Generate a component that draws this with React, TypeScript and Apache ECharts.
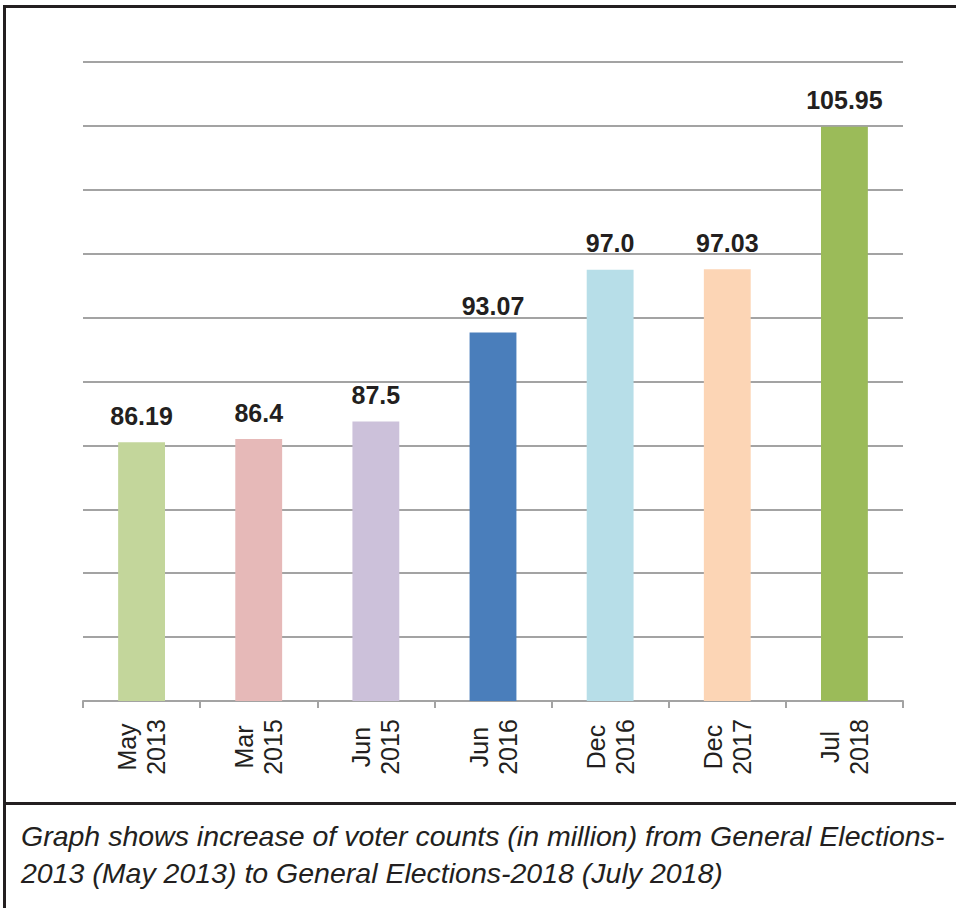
import React, { useEffect, useRef } from "react";
import * as echarts from "echarts";

// Registered voters (million) at each electoral-roll update
const categories = [
  "May\n2013",
  "Mar\n2015",
  "Jun\n2015",
  "Jun\n2016",
  "Dec\n2016",
  "Dec\n2017",
  "Jul\n2018",
];
const voters = [86.19, 86.4, 87.5, 93.07, 97.0, 97.03, 105.95];
const valueLabels = ["86.19", "86.4", "87.5", "93.07", "97.0", "97.03", "105.95"];
const barColors = [
  "#c3d69b",
  "#e6b9b8",
  "#ccc1da",
  "#4a7ebb",
  "#b7dee8",
  "#fcd5b5",
  "#9bbb59",
];
const captionLines = [
  "Graph shows increase of voter counts (in million) from General Elections-",
  "2013 (May 2013) to General Elections-2018 (July 2018)",
];

const INK = "#231f20";
const GRID_GREY = "#a3a3a3";
const FONT = "'Liberation Sans', Arial, Helvetica, sans-serif";

export default function App() {
  const ref = useRef<HTMLDivElement>(null);

  useEffect(() => {
    if (!ref.current) return;
    const chart = echarts.init(ref.current, null, { renderer: "svg" });

    chart.setOption({
      animation: false,
      backgroundColor: "#ffffff",
      grid: { left: 83, right: 53, top: 62, bottom: 207, containLabel: false },
      xAxis: {
        type: "category",
        data: categories,
        axisLine: { show: true, lineStyle: { color: GRID_GREY, width: 2 } },
        axisTick: {
          show: true,
          alignWithLabel: false,
          length: 7,
          lineStyle: { color: GRID_GREY, width: 2 },
        },
        axisLabel: {
          rotate: 90,
          align: "center",
          verticalAlign: "middle",
          margin: 46,
          interval: 0,
          color: INK,
          fontFamily: FONT,
          fontSize: 25,
          lineHeight: 29,
        },
      },
      yAxis: [
        {
          // value scale for the bars
          type: "value",
          min: 70,
          max: 110,
          show: true,
          axisLine: { show: false },
          axisTick: { show: false },
          axisLabel: { show: false },
          splitLine: { show: false },
        },
        {
          // ten equal bands of horizontal gridlines behind the bars
          type: "value",
          min: 0,
          max: 10,
          interval: 1,
          axisLine: { show: false },
          axisTick: { show: false },
          axisLabel: { show: false },
          splitLine: { show: true, lineStyle: { color: GRID_GREY, width: 2 } },
        },
      ],
      series: [
        {
          type: "bar",
          yAxisIndex: 0,
          barWidth: "40%",
          data: voters.map((v, i) => ({
            value: v,
            itemStyle: { color: barColors[i] },
          })),
          label: {
            show: true,
            position: "top",
            distance: 14,
            formatter: (p: any) => valueLabels[p.dataIndex],
            color: INK,
            fontFamily: FONT,
            fontWeight: "bold",
            fontSize: 25,
            lineHeight: 25,
          },
        },
      ],
      graphic: [
        // outer frame: top and left rules
        { type: "rect", shape: { x: 3, y: 5, width: 953, height: 3 }, style: { fill: INK }, silent: true },
        { type: "rect", shape: { x: 3, y: 5, width: 3, height: 903 }, style: { fill: INK }, silent: true },
        // divider between the chart and its caption
        { type: "rect", shape: { x: 3, y: 802, width: 953, height: 3 }, style: { fill: INK }, silent: true },
        {
          type: "text",
          left: 21,
          top: 817,
          style: {
            text: captionLines.join("\n"),
            fill: INK,
            font: `italic 28.5px ${FONT}`,
            lineHeight: 37,
          },
          silent: true,
        },
      ],
    });

    return () => chart.dispose();
  }, []);

  return (
    <div
      ref={ref}
      style={{ position: "absolute", left: 0, top: 0, width: 956, height: 908 }}
    />
  );
}
